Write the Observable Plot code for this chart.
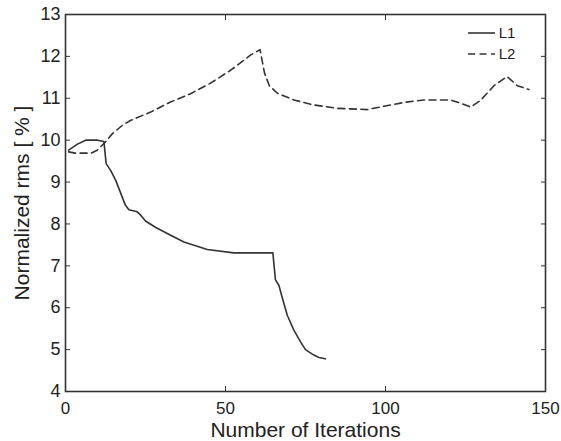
<!DOCTYPE html>
<html>
<head>
<meta charset="utf-8">
<script src="https://cdn.jsdelivr.net/npm/d3@7"></script>
<script src="https://cdn.jsdelivr.net/npm/@observablehq/plot@0.6"></script>
<style>
  html, body { margin: 0; padding: 0; background: #fff; }
  #chart svg { display: block; }
</style>
</head>
<body>
<div id="chart"></div>
<script>
// ---- data ----
const l1X = [1, 3.6, 6.3, 10, 12, 12.7, 14.1, 15.7, 18.7, 19.8, 22.4, 23.5, 25, 28.1, 31.8, 37, 44.3, 52.6, 64.8, 65.6, 66.7, 67.7, 69.3, 71.4, 73.5, 75, 77.6, 79.2, 81.2];
const l1Y = [9.76, 9.9, 10.0, 10.0, 9.97, 9.44, 9.28, 9.04, 8.45, 8.34, 8.29, 8.21, 8.07, 7.92, 7.77, 7.57, 7.39, 7.31, 7.31, 6.67, 6.53, 6.25, 5.82, 5.46, 5.18, 5.0, 4.87, 4.81, 4.78];
const l2X = [1, 3, 8, 9.9, 12.5, 14.6, 17.7, 20.3, 26.6, 32.8, 39.1, 45.3, 51.6, 57.8, 60.8, 62.2, 63.7, 66.2, 71.4, 77.6, 84.9, 94.3, 99.5, 105.7, 112, 120.3, 123.5, 126.6, 129.7, 133.9, 138, 141.2, 144.8];
const l2Y = [9.72, 9.69, 9.69, 9.76, 9.96, 10.15, 10.35, 10.47, 10.67, 10.91, 11.11, 11.36, 11.67, 12.03, 12.16, 11.6, 11.3, 11.12, 10.96, 10.84, 10.76, 10.73, 10.81, 10.90, 10.96, 10.96, 10.88, 10.79, 10.95, 11.3, 11.52, 11.3, 11.21];
const xTicks = [0, 50, 100, 150];
const yTicks = [4, 5, 6, 7, 8, 9, 10, 11, 12, 13];
const seriesNames = ["L1", "L2"];
const xLabel = "Number of Iterations";
const yLabel = "Normalized rms [ % ]";

const l1 = l1X.map((x, i) => ({x, y: l1Y[i]}));
const l2 = l2X.map((x, i) => ({x, y: l2Y[i]}));

const ink = "#333";
const font = "'Liberation Sans', Arial, sans-serif";
const dash = "7,4.5";

const chart = Plot.plot({
  width: 561,
  height: 441,
  marginLeft: 65,
  marginRight: 16,
  marginTop: 14,
  marginBottom: 50,
  style: {fontFamily: font, color: ink, background: "#fff"},
  x: {domain: [0, 150]},
  y: {domain: [4, 13]},
  marks: [
    // inward ticks on all four sides
    Plot.axisX(xTicks, {anchor: "bottom", tickSize: 5, dy: -5, tickFormat: () => "", label: null, stroke: ink}),
    Plot.axisX(xTicks, {anchor: "top", tickSize: 5, dy: 5, tickFormat: () => "", label: null, stroke: ink}),
    Plot.axisY(yTicks, {anchor: "left", tickSize: 5, dx: 5, tickFormat: () => "", label: null, stroke: ink}),
    Plot.axisY(yTicks, {anchor: "right", tickSize: 5, dx: -5, tickFormat: () => "", label: null, stroke: ink}),
    // tick labels
    Plot.axisX(xTicks, {anchor: "bottom", tickSize: 0, tickPadding: 10, fontSize: 17, label: null, fill: "#222"}),
    Plot.axisY(yTicks, {anchor: "left", tickSize: 0, tickPadding: 5, fontSize: 18, label: null, fill: "#222"}),
    // data
    Plot.line(l1, {x: "x", y: "y", stroke: ink, strokeWidth: 1.6}),
    Plot.line(l2, {x: "x", y: "y", stroke: ink, strokeWidth: 1.6, strokeDasharray: dash}),
    Plot.frame({stroke: ink, strokeWidth: 1.6}),
    // axis titles
    Plot.text([xLabel], {frameAnchor: "bottom", dy: 45, lineAnchor: "bottom", fontSize: 21, fill: "#222"}),
    Plot.text([yLabel], {frameAnchor: "left", dx: -43, rotate: -90, textAnchor: "middle", lineAnchor: "middle", fontSize: 21, fill: "#222"})
  ]
});

// legend (layout only)
const svg = d3.select(chart);
const legend = svg.append("g").attr("font-family", font).attr("font-size", 15).attr("fill", "#222");
const legendRows = [{name: seriesNames[0], dash: null, y: 33}, {name: seriesNames[1], dash: dash, y: 54}];
for (const r of legendRows) {
  legend.append("line")
    .attr("x1", 468).attr("x2", 495).attr("y1", r.y).attr("y2", r.y)
    .attr("stroke", ink).attr("stroke-width", 1.6)
    .attr("stroke-dasharray", r.dash);
  legend.append("text").attr("x", 507).attr("y", r.y).attr("dy", "0.36em").text(r.name);
}

document.getElementById("chart").appendChild(chart);
</script>
</body>
</html>
